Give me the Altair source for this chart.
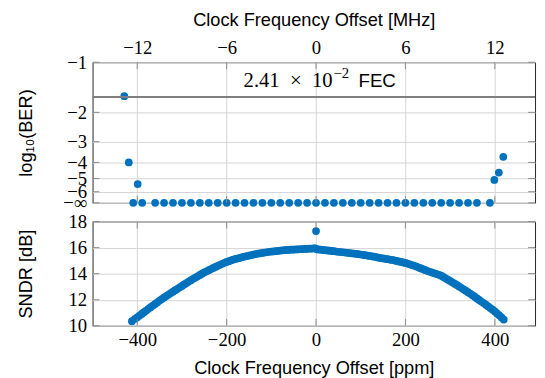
import math
import altair as alt
import pandas as pd

# ---------------- data ----------------
# Top panel: log10(BER) vs clock offset (ppm); None = error free (plotted at "-inf")
NEG_INF = None
ber_ppm = [-429, -419, -409, -399, -389,
           -360, -340, -320, -300, -280, -260, -240, -220, -200, -180,
           -160, -140, -120, -100, -80, -60, -40, -20, 0, 20,
           40, 60, 80, 100, 120, 140, 160, 180, 200, 220,
           240, 260, 280, 300, 320, 340, 360,
           389, 399, 409, 419]
ber_log10 = [-1.6, -4.0, NEG_INF, -5.4, NEG_INF,
             NEG_INF, NEG_INF, NEG_INF, NEG_INF, NEG_INF, NEG_INF, NEG_INF, NEG_INF, NEG_INF, NEG_INF,
             NEG_INF, NEG_INF, NEG_INF, NEG_INF, NEG_INF, NEG_INF, NEG_INF, NEG_INF, NEG_INF, NEG_INF,
             NEG_INF, NEG_INF, NEG_INF, NEG_INF, NEG_INF, NEG_INF, NEG_INF, NEG_INF, NEG_INF, NEG_INF,
             NEG_INF, NEG_INF, NEG_INF, NEG_INF, NEG_INF, NEG_INF, NEG_INF,
             NEG_INF, -5.1, -4.6, -3.7]

# Bottom panel: SNDR (dB) vs clock offset (ppm)
sndr_ppm = [-412, -405, -400, -395, -390, -385, -380, -375, -370, -365,
            -360, -355, -350, -345, -340, -335, -330, -325, -320, -315,
            -310, -305, -300, -295, -290, -285, -280, -275, -270, -265,
            -260, -255, -250, -245, -240, -235, -230, -225, -220, -215,
            -210, -205, -200, -195, -190, -185, -180, -175, -170, -165,
            -160, -155, -150, -145, -140, -135, -130, -125, -120, -115,
            -110, -105, -100, -95, -90, -85, -80, -75, -70, -65,
            -60, -55, -50, -45, -40, -35, -30, -25, -20, -15,
            -10, -5, -2, 0, 2, 5, 10, 15, 20, 25,
            30, 35, 40, 45, 50, 55, 60, 65, 70, 75,
            80, 85, 90, 95, 100, 105, 110, 115, 120, 125,
            130, 135, 140, 145, 150, 155, 160, 165, 170, 175,
            180, 185, 190, 195, 200, 205, 210, 215, 220, 225,
            230, 235, 240, 245, 250, 255, 260, 265, 270, 275,
            280, 285, 290, 295, 300, 305, 310, 315, 320, 325,
            330, 335, 340, 345, 350, 355, 360, 365, 370, 375,
            380, 385, 390, 395, 400, 405, 410, 415, 420]
sndr_db = [10.35, 10.53, 10.65, 10.78, 10.91, 11.04, 11.17, 11.30, 11.43, 11.55,
           11.68, 11.80, 11.93, 12.05, 12.17, 12.28, 12.40, 12.51, 12.62, 12.73,
           12.84, 12.95, 13.06, 13.17, 13.28, 13.39, 13.50, 13.60, 13.70, 13.80,
           13.90, 14.00, 14.10, 14.18, 14.27, 14.35, 14.44, 14.52, 14.60, 14.68,
           14.76, 14.83, 14.90, 14.96, 15.02, 15.08, 15.13, 15.18, 15.22, 15.27,
           15.31, 15.35, 15.39, 15.43, 15.46, 15.50, 15.53, 15.56, 15.59, 15.62,
           15.64, 15.67, 15.69, 15.71, 15.73, 15.75, 15.77, 15.79, 15.80, 15.82,
           15.83, 15.84, 15.85, 15.86, 15.87, 15.88, 15.89, 15.90, 15.91, 15.92,
           15.93, 15.94, 15.95, 17.27, 15.87, 15.86, 15.84, 15.82, 15.80, 15.78,
           15.76, 15.74, 15.72, 15.70, 15.68, 15.66, 15.64, 15.62, 15.60, 15.58,
           15.56, 15.54, 15.52, 15.50, 15.47, 15.45, 15.42, 15.39, 15.36, 15.33,
           15.30, 15.27, 15.23, 15.20, 15.17, 15.14, 15.11, 15.08, 15.05, 15.02,
           14.98, 14.94, 14.90, 14.86, 14.82, 14.77, 14.72, 14.66, 14.60, 14.54,
           14.47, 14.40, 14.33, 14.27, 14.20, 14.14, 14.08, 14.03, 13.97, 13.91,
           13.84, 13.74, 13.64, 13.54, 13.44, 13.34, 13.23, 13.13, 13.02, 12.91,
           12.80, 12.69, 12.58, 12.47, 12.35, 12.23, 12.10, 11.98, 11.86, 11.74,
           11.62, 11.49, 11.36, 11.23, 11.10, 10.95, 10.80, 10.64, 10.48]

ppm_ticks = [-400, -200, 0, 200, 400]
ber_ticks = [1, 2, 3, 4, 5, 6, 7]          # -log10(BER); 7 stands for -inf
sndr_ticks = [10, 12, 14, 16, 18]
fec_ber = 2.41e-2
ann_ppm = [37, 37, 95]
ann_q = [1.29, 1.29, 1.29]
ann_text = ["2.41\u2002×\u200210", "−2", "FEC"]

# ---------------- styling ----------------
BLUE = "#0072bd"
GRID = "#d4d4d4"
TICK = "#8c8c8c"
FRAME = "#262626"
W, H1, H2 = 450, 143, 106
INF_POS = 7

ber_df = pd.DataFrame({"ppm": ber_ppm,
                       "q": [INF_POS if v is None else -v for v in ber_log10]})
sndr_df = pd.DataFrame({"ppm": sndr_ppm, "q": sndr_db})
fec_df = pd.DataFrame({"q": [-math.log10(fec_ber)]})
xt_df = pd.DataFrame({"ppm": ppm_ticks})
yt1_df = pd.DataFrame({"q": ber_ticks})
yt2_df = pd.DataFrame({"q": sndr_ticks})

xs = alt.Scale(domain=[-500, 490], nice=False, zero=False)
ys1 = alt.Scale(type="log", domain=[1, 7], reverse=True, nice=False)
ys2 = alt.Scale(domain=[10, 18], nice=False, zero=False)

minus_expr = "datum.value < 0 ? '−' + abs(datum.value) : '' + datum.value"
mhz_expr = ("datum.value < 0 ? '−' + format(abs(datum.value) * 0.03, 'd')"
            " : format(datum.value * 0.03, 'd')")

top_x_axis = alt.Axis(orient="top", values=ppm_ticks, labelExpr=mhz_expr, tickCount=20,
                      title="Clock Frequency Offset [MHz]", titleY=-43,
                      titleBaseline="middle", labelPadding=5, labelOverlap=False)
bot_x_axis = alt.Axis(orient="bottom", values=ppm_ticks, labelExpr=minus_expr, tickCount=20,
                      title="Clock Frequency Offset [ppm]", titleY=43,
                      titleBaseline="middle", labelPadding=5, labelOverlap=False)
y1_axis = alt.Axis(values=ber_ticks, tickCount=20,
                   labelExpr="datum.value == 7 ? '−∞' : '−' + datum.value",
                   title="log₁₀(BER)", titleX=-68, titleBaseline="middle",
                   labelPadding=6, labelOverlap=False)
y2_axis = alt.Axis(values=sndr_ticks, labelExpr=minus_expr, tickCount=20,
                   title="SNDR [dB]", titleX=-68, titleBaseline="middle",
                   labelPadding=6, labelOverlap=False)


def inward_ticks(ydf, yscale, height):
    top_t = alt.Chart(xt_df).mark_rule(color=TICK, strokeWidth=1).encode(
        x=alt.X("ppm:Q", scale=xs), y=alt.value(0), y2=alt.value(7))
    bot_t = alt.Chart(xt_df).mark_rule(color=TICK, strokeWidth=1).encode(
        x=alt.X("ppm:Q", scale=xs), y=alt.value(height - 7), y2=alt.value(height))
    left_t = alt.Chart(ydf).mark_rule(color=TICK, strokeWidth=1).encode(
        y=alt.Y("q:Q", scale=yscale), x=alt.value(0), x2=alt.value(7))
    right_t = alt.Chart(ydf).mark_rule(color=TICK, strokeWidth=1).encode(
        y=alt.Y("q:Q", scale=yscale), x=alt.value(W - 7), x2=alt.value(W))
    return [top_t, bot_t, left_t, right_t]


# ---------------- top panel ----------------
ber_pts = alt.Chart(ber_df).mark_circle(size=62, color=BLUE, opacity=1).encode(
    x=alt.X("ppm:Q", scale=xs, axis=top_x_axis),
    y=alt.Y("q:Q", scale=ys1, axis=y1_axis),
)
fec_rule = alt.Chart(fec_df).mark_rule(color="#7f7f7f", strokeWidth=2).encode(
    y=alt.Y("q:Q", scale=ys1))

ann_df = pd.DataFrame({"ppm": ann_ppm, "q": ann_q, "t": ann_text})
ann_main = alt.Chart(ann_df.iloc[[0]]).mark_text(
    font="Liberation Serif", fontSize=21, align="right", baseline="middle",
    color="black").encode(x=alt.X("ppm:Q", scale=xs), y=alt.Y("q:Q", scale=ys1), text="t:N")
ann_sup = alt.Chart(ann_df.iloc[[1]]).mark_text(
    font="Liberation Serif", fontSize=15, align="left", baseline="middle",
    dx=1, dy=-8, color="black").encode(x=alt.X("ppm:Q", scale=xs), y=alt.Y("q:Q", scale=ys1), text="t:N")
ann_fec = alt.Chart(ann_df.iloc[[2]]).mark_text(
    font="Liberation Sans", fontSize=19, align="left", baseline="middle",
    color="black").encode(x=alt.X("ppm:Q", scale=xs), y=alt.Y("q:Q", scale=ys1), text="t:N")

top = alt.layer(ber_pts, *inward_ticks(yt1_df, ys1, H1), fec_rule,
                ann_main, ann_sup, ann_fec).properties(width=W, height=H1)

# ---------------- bottom panel ----------------
sndr_pts = alt.Chart(sndr_df).mark_circle(size=62, color=BLUE, opacity=1).encode(
    x=alt.X("ppm:Q", scale=xs, axis=bot_x_axis),
    y=alt.Y("q:Q", scale=ys2, axis=y2_axis),
)
bottom = alt.layer(sndr_pts, *inward_ticks(yt2_df, ys2, H2)).properties(width=W, height=H2)

chart = alt.vconcat(top, bottom, spacing=19, bounds="flush").properties(
    padding={"left": 8, "top": -1, "right": 0, "bottom": 0}
).configure_view(
    stroke=FRAME, strokeWidth=1
).configure_axis(
    grid=True, gridColor=GRID, gridWidth=1, ticks=False, domain=False,
    labelOverlap=False, labelBound=False,
    labelFont="Liberation Serif", labelFontSize=19, labelColor="black",
    titleFont="Liberation Sans", titleFontSize=18.5, titleFontWeight="normal",
    titleColor="black",
)

chart.save("out.html", embed_options={"renderer": "svg", "actions": False})
